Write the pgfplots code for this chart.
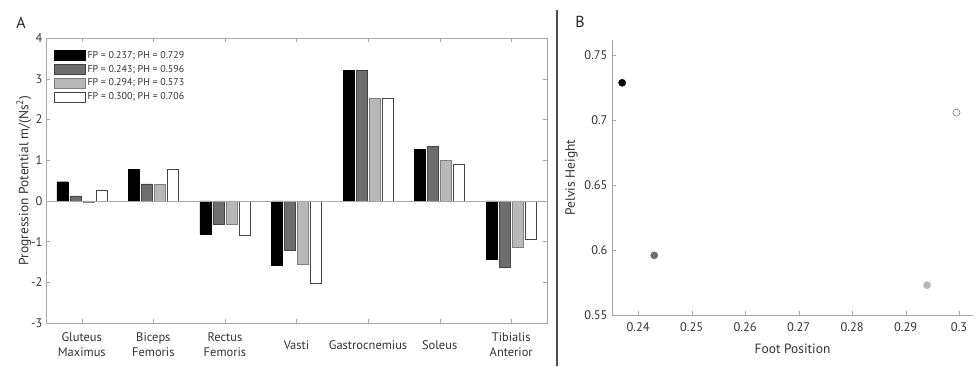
\documentclass[border=0pt]{standalone}
\usepackage{fontspec}
\setmainfont{PT Sans}
\usepackage{pgfplots}
\pgfplotsset{compat=1.18}
\definecolor{axgray}{HTML}{A8A8A8}
\definecolor{txtgray}{HTML}{333333}
\definecolor{ctwo}{HTML}{6E6E6E}
\definecolor{cthree}{HTML}{B8B8B8}
\definecolor{edge}{HTML}{444444}
\begin{document}
\begin{tikzpicture}[x=1bp,y=1bp]
\useasboundingbox (0,0) rectangle (980,366);
\begin{axis}[at={(46bp,43bp)}, anchor=south west, scale only axis,
  width=501bp, height=285bp,
  xmin=0.5, xmax=7.5, ymin=-3, ymax=4,
  ybar=2bp, bar width=11bp,
  xtick={1,2,3,4,5,6,7},
  xticklabels={{Gluteus\\Maximus},{Biceps\\Femoris},{Rectus\\Femoris},Vasti,Gastrocnemius,Soleus,{Tibialis\\Anterior}},
  xticklabel style={align=center, anchor=center, yshift=-22bp, font=\fontsize{12.5}{15}\selectfont, text=txtgray},
  ytick={-3,-2,-1,0,1,2,3,4},
  yticklabel style={font=\fontsize{12.5}{14}\selectfont, text=txtgray},
  /pgf/number format/assume math mode=true,
  tick align=inside, major tick length=4bp,
  axis line style={axgray}, tick style={axgray},
  ylabel={Progression Potential m/(Ns\textsuperscript{2})},
  ylabel style={font=\fontsize{13.5}{15}\selectfont, text=txtgray, yshift=-7bp},
  legend style={draw=none, fill=none, at={(8bp,274bp)}, anchor=north west, font=\fontsize{10}{11}\selectfont, text=txtgray, row sep=1.2bp, inner sep=0pt},
  legend cell align=left,
  legend image code/.code={\draw[#1] (0bp,-5bp) rectangle (31bp,5bp);},
  clip=false,
]
\addplot[fill=black, draw=black] coordinates {(1,0.47) (2,0.77) (3,-0.83) (4,-1.58) (5,3.20) (6,1.27) (7,-1.44)};
\addplot[fill=ctwo, draw=edge] coordinates {(1,0.12) (2,0.42) (3,-0.57) (4,-1.22) (5,3.20) (6,1.34) (7,-1.62)};
\addplot[fill=cthree, draw=gray] coordinates {(1,-0.03) (2,0.40) (3,-0.57) (4,-1.55) (5,2.53) (6,0.99) (7,-1.13)};
\addplot[fill=white, draw=edge] coordinates {(1,0.27) (2,0.77) (3,-0.84) (4,-2.03) (5,2.53) (6,0.89) (7,-0.95)};
\legend{FP = 0.237; PH = 0.729, FP = 0.243; PH = 0.596, FP = 0.294; PH = 0.573, FP = 0.300; PH = 0.706}
\draw[axgray] (axis cs:0.5,0) -- (axis cs:7.5,0);
\end{axis}
\begin{axis}[at={(612bp,51bp)}, anchor=south west, scale only axis,
  width=361bp, height=275bp,
  xmin=0.2351, xmax=0.3026, ymin=0.55, ymax=0.762,
  axis lines*=left,
  xtick={0.24,0.25,0.26,0.27,0.28,0.29,0.3},
  xticklabels={0.24,0.25,0.26,0.27,0.28,0.29,0.3},
  ytick={0.55,0.6,0.65,0.7,0.75},
  yticklabels={0.55,0.6,0.65,0.7,0.75},
  ticklabel style={font=\fontsize{12.5}{14}\selectfont, text=txtgray},
  xticklabel style={yshift=-4bp},
  yticklabel style={xshift=-1bp},
  tick align=inside, major tick length=4bp,
  axis line style={axgray}, tick style={axgray},
  xlabel={Foot Position}, ylabel={Pelvis Height},
  label style={font=\fontsize{13.5}{15}\selectfont, text=txtgray},
  xlabel style={yshift=-6bp},
  clip=false,
]
\addplot[only marks, mark=*, mark size=3.6bp, mark options={fill=black, draw=black}] coordinates {(0.237,0.729)};
\addplot[only marks, mark=*, mark size=3.6bp, mark options={fill=ctwo, draw=ctwo}] coordinates {(0.243,0.596)};
\addplot[only marks, mark=*, mark size=3.6bp, mark options={fill=cthree, draw=cthree}] coordinates {(0.294,0.573)};
\addplot[only marks, mark=*, mark size=3.6bp, mark options={fill=white, draw=edge}] coordinates {(0.2995,0.706)};
\end{axis}
\draw[line width=2.5bp, color=black!70] (557,0) -- (557,356);
\node[font=\fontsize{16}{18}\selectfont, text=black!85] at (21,343) {A};
\node[font=\fontsize{16}{18}\selectfont, text=black!85] at (580,344) {B};
\end{tikzpicture}
\end{document}
